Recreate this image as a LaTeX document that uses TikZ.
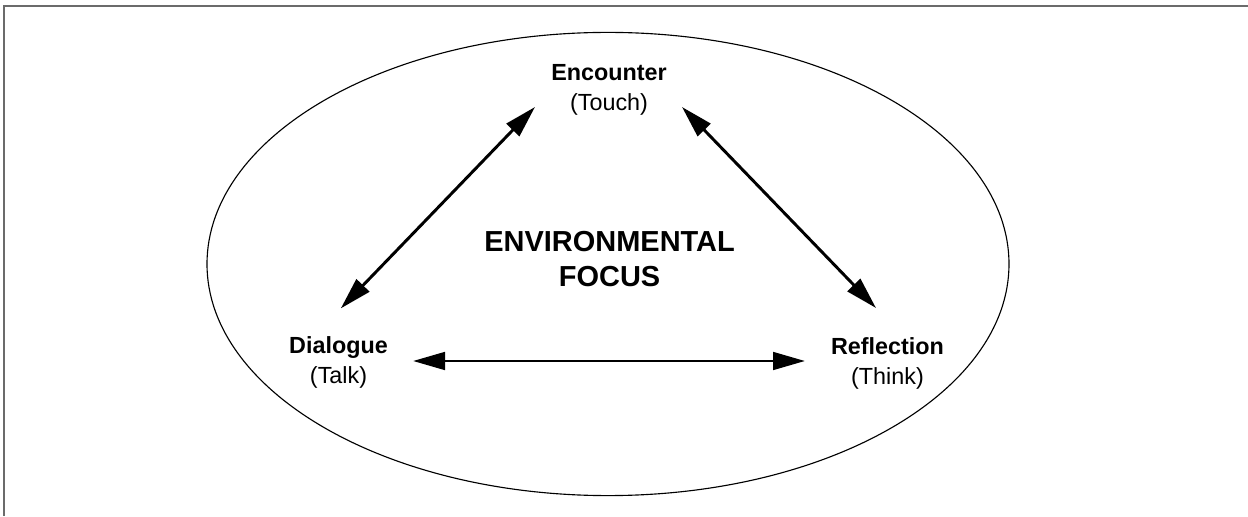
\documentclass[tikz,border=0pt]{standalone}
\usepackage{fontspec}
\setmainfont{Liberation Sans}
\usetikzlibrary{calc,positioning}
\usetikzlibrary{arrows.meta}
\definecolor{frameGray}{gray}{0.42}
\tikzset{
    lbl/.style={align=center,inner sep=0pt,font=\fontsize{16.6pt}{21.5pt}\selectfont},
    ttl/.style={align=center,inner sep=0pt,font=\fontsize{20.6pt}{25.3pt}\selectfont\bfseries},
    link/.style={line width=2.1pt,{Triangle[length=0.8cm,width=0.44cm]}-{Triangle[length=0.8cm,width=0.44cm]}}
}
\begin{document}
\begin{tikzpicture}
\useasboundingbox (0,0) rectangle (31.2,12.9);
\draw[line width=0.05cm,frameGray] (0.09,0) -- (0.09,12.76) -- (31.2,12.76);

\coordinate (cMidPt) at (15.2,6.3);
\coordinate (cEncPt) at (15.225,10.66);
\coordinate (cDiaPt) at (8.4625,3.83);
\coordinate (cRefPt) at (22.1875,3.81);

\draw[line width=0.8pt] (cMidPt) ellipse (10.025 and 5.79);

\foreach \v/\n/\t/\s in
{cEncPt/nEnc/Encounter/Touch,
    cDiaPt/nDia/Dialogue/Talk,
    cRefPt/nRef/Reflection/Think}
{
    \node[lbl] (\n) at (\v) {\textbf{\t}\\(\s)};
};

\node[ttl] (nFocus) at (15.24,6.425) {ENVIRONMENTAL\\FOCUS};

% arrow ends
\coordinate (cEncL) at (13.375,10.225);
\coordinate (cEncR) at (17.05,10.225);
\coordinate (cDiaU) at (8.52,5.19);
\coordinate (cRefU) at (21.9,5.2);
\coordinate (cDiaR) at (10.325,3.875);
\coordinate (cRefL) at (20.125,3.875);

\draw[link] (cEncL) -- (cDiaU);
\draw[link] (cEncR) -- (cRefU);
\draw[link] (cDiaR) -- (cRefL);

\end{tikzpicture}
\end{document}
